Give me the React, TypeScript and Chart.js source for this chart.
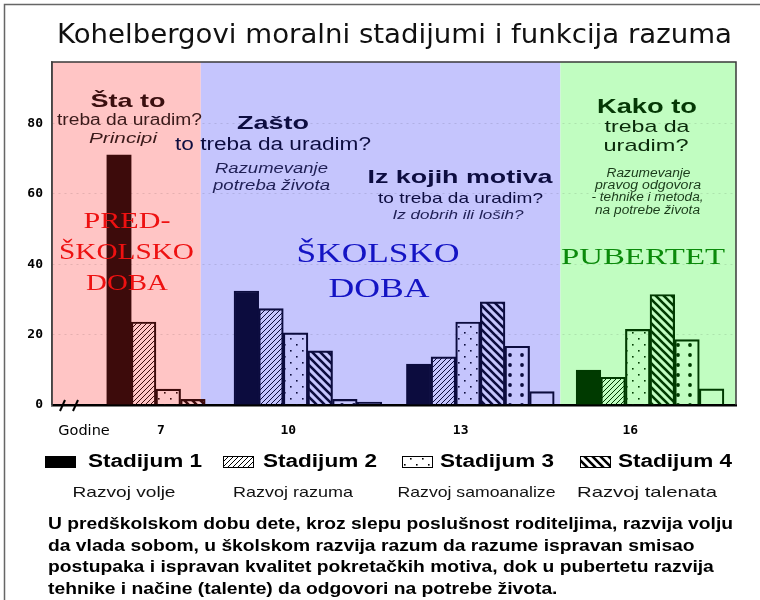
import React, { useEffect, useRef } from 'react';
import { Chart, registerables } from 'chart.js';

Chart.register(...registerables);

// ---------------- data ----------------
const TITLE = 'Kohelbergovi moralni stadijumi i funkcija razuma';
const AGES = ['7', '10', '13', '16'];
const X_TICK_LABELS = ['Godine', '7', '10', '13', '16'];
const SERIES_NAMES = ['Stadijum 1', 'Stadijum 2', 'Stadijum 3', 'Stadijum 4', 'Stadijum 5', 'Stadijum 6'];
const STADIJUM_1 = [71.1, 32.4, 11.6, 9.9];
const STADIJUM_2 = [23.6, 27.4, 13.7, 7.9];
const STADIJUM_3 = [4.5, 20.5, 23.6, 21.5];
const STADIJUM_4 = [1.6, 15.4, 29.3, 31.4];
const STADIJUM_5 = [null, 1.6, 16.7, 18.6];
const STADIJUM_6 = [null, 0.8, 3.8, 4.6];
const Y_TICK_STEP = 20;
const LEGEND_LABELS = ['Stadijum 1', 'Stadijum 2', 'Stadijum 3', 'Stadijum 4'];
const LEGEND_SUBLABELS = ['Razvoj volje', 'Razvoj razuma', 'Razvoj samoanalize', 'Razvoj talenata'];
const PARAGRAPH = [
  'U predškolskom dobu dete, kroz slepu poslušnost roditeljima, razvija volju',
  'da vlada sobom, u školskom razvija razum da razume ispravan smisao',
  'postupaka i ispravan kvalitet pokretačkih motiva, dok u pubertetu razvija',
  'tehnike i načine (talente) da odgovori na potrebe života.',
];

// ---------------- layout / style ----------------
const SANS = '"Liberation Sans", Arial, sans-serif';
const SERIF = '"Liberation Serif", "Times New Roman", serif';
const X_MAX = 27.77; // plot width in bar-width units
const Y_MAX = 97.5;
const GROUP_START = [2.22, 7.39, 14.39, 21.28]; // left edge of first bar of each age group (bar units)
const TICK_OFFSET = 2.2;
const GODINE_POS = 1.3;
const ZONES = [
  { from: 0, to: 6.04, bg: '#ffc5c5', ink: '#3d0b0b' },
  { from: 6.04, to: 20.64, bg: '#c5c5fd', ink: '#0c0c3e' },
  { from: 20.64, to: X_MAX, bg: '#c1fdc1', ink: '#003a00' },
];
const PATTERN_KINDS = ['solid', 'hatch', 'dots', 'diag', 'bigdots', 'empty'];

type Ann = [string, number, number, string, string, number];
const ANNOTATIONS: Ann[] = [
  ['Šta to', 128, 107, `bold 19px ${SANS}`, '#3a0f0f', 75],
  ['treba da uradim?', 129.5, 124.5, `16px ${SANS}`, '#3a1a1a', 145],
  ['Principi', 123, 143, `italic 15px ${SANS}`, '#3a1a1a', 68],
  ['PRED-', 127, 228, `23px ${SERIF}`, '#ee1111', 87],
  ['ŠKOLSKO', 126.5, 259, `23px ${SERIF}`, '#ee1111', 135],
  ['DOBA', 127, 290, `23px ${SERIF}`, '#ee1111', 82],
  ['Zašto', 273, 129, `bold 19px ${SANS}`, '#0d0d40', 72],
  ['to treba da uradim?', 273, 150, `17.5px ${SANS}`, '#0d0d40', 196],
  ['Razumevanje', 271.5, 173, `italic 14px ${SANS}`, '#1f1f55', 113],
  ['potreba života', 271.5, 190, `italic 14px ${SANS}`, '#1f1f55', 117],
  ['Iz kojih motiva', 460, 183, `bold 19px ${SANS}`, '#0d0d40', 185],
  ['to treba da uradim?', 460.5, 203, `15px ${SANS}`, '#0d0d40', 165],
  ['Iz dobrih ili loših?', 458, 219, `italic 13px ${SANS}`, '#1f1f55', 131],
  ['ŠKOLSKO', 378, 262, `27px ${SERIF}`, '#1414c4', 163],
  ['DOBA', 379, 297, `27px ${SERIF}`, '#1414c4', 101],
  ['Kako to', 647, 113, `bold 19.5px ${SANS}`, '#053805', 100],
  ['treba da', 647, 131.5, `17px ${SANS}`, '#0a2a0a', 85],
  ['uradim?', 646, 150.5, `17px ${SANS}`, '#0a2a0a', 85],
  ['Razumevanje', 648.5, 177, `italic 12px ${SANS}`, '#1a3a1a', 84],
  ['pravog odgovora', 648, 188.5, `italic 12px ${SANS}`, '#1a3a1a', 106],
  ['- tehnike i metoda,', 647.5, 201, `italic 12px ${SANS}`, '#1a3a1a', 112],
  ['na potrebe života', 647.5, 213.5, `italic 12px ${SANS}`, '#1a3a1a', 105],
  ['PUBERTET', 643, 264, `24px ${SERIF}`, '#0b8a0b', 164],
];

const LEGEND_X = [45, 223, 402, 580];
const LEGEND_TEXT_X = [88, 263, 440, 618];
const SUBLABEL_CX = [124, 293, 476.5, 647];
const SUBLABEL_W = [103, 120, 158, 140];

function drawText(
  ctx: CanvasRenderingContext2D, text: string, x: number, y: number, font: string,
  color: string, width?: number, align: CanvasTextAlign = 'center', sxOverride?: number
) {
  ctx.save();
  ctx.font = font;
  ctx.fillStyle = color;
  ctx.textBaseline = 'alphabetic';
  ctx.textAlign = align;
  const m = ctx.measureText(text).width;
  const sx = sxOverride ?? (width ? width / m : 1);
  ctx.translate(x, y);
  ctx.scale(sx, 1);
  ctx.fillText(text, 0, 0);
  ctx.restore();
}

function makePattern(kind: string, color: string, bg?: string): CanvasPattern | string {
  if (kind === 'solid') return color;
  if (kind === 'empty') return bg ?? 'rgba(0,0,0,0)';
  const c = document.createElement('canvas');
  let w = 8, h = 8;
  if (kind === 'hatch') { w = 5; h = 5; }
  if (kind === 'dots') { w = 12; h = 12; }
  if (kind === 'diag') { w = 8; h = 8; }
  if (kind === 'bigdots') { w = 12; h = 10; }
  c.width = w; c.height = h;
  const g = c.getContext('2d')!;
  if (bg) { g.fillStyle = bg; g.fillRect(0, 0, w, h); }
  g.strokeStyle = color;
  g.fillStyle = color;
  if (kind === 'hatch') {
    g.lineWidth = 1;
    g.beginPath();
    g.moveTo(0, 5); g.lineTo(5, 0);
    g.moveTo(-1, 1); g.lineTo(1, -1);
    g.moveTo(4, 6); g.lineTo(6, 4);
    g.stroke();
  } else if (kind === 'dots') {
    g.fillRect(2, 2, 1.6, 1.6);
    g.fillRect(8, 8, 1.6, 1.6);
  } else if (kind === 'diag') {
    g.lineWidth = 2.6;
    g.beginPath();
    g.moveTo(0, 0); g.lineTo(8, 8);
    g.moveTo(-2, 6); g.lineTo(2, 10);
    g.moveTo(6, -2); g.lineTo(10, 2);
    g.stroke();
  } else if (kind === 'bigdots') {
    g.beginPath();
    g.arc(6, 5, 1.9, 0, Math.PI * 2);
    g.fill();
  }
  return g.createPattern(c, 'repeat')!;
}

function zoneAt(x: number | undefined) {
  if (x === undefined) return ZONES[0];
  return ZONES.find((z) => x >= z.from && x < z.to) ?? ZONES[ZONES.length - 1];
}

export default function App() {
  const ref = useRef<HTMLCanvasElement>(null);

  useEffect(() => {
    const canvas = ref.current!;
    const seriesValues = [STADIJUM_1, STADIJUM_2, STADIJUM_3, STADIJUM_4, STADIJUM_5, STADIJUM_6];

    const zonePatterns = ZONES.map((z) => PATTERN_KINDS.map((k) => makePattern(k, z.ink)));
    const legendPatterns = PATTERN_KINDS.map((k) => makePattern(k, '#000', '#fff'));

    const tickPositions = [GODINE_POS, ...GROUP_START.map((g) => g + TICK_OFFSET)];

    const datasets = seriesValues.map((vals, s) => ({
      label: SERIES_NAMES[s],
      data: vals
        .map((v, g) => ({ x: GROUP_START[g] + s + 0.5, y: v, age: AGES[g] }))
        .filter((p) => p.y !== null),
      backgroundColor: (ctx: any) => {
        const zi = ZONES.indexOf(zoneAt(ctx.raw?.x));
        return zonePatterns[zi][s];
      },
      borderColor: (ctx: any) => zoneAt(ctx.raw?.x).ink,
      borderWidth: 1.5,
      grouped: false,
      categoryPercentage: 1,
      barPercentage: 1,
    }));

    const decorations = {
      id: 'decorations',
      beforeDraw(chart: any) {
        const { ctx, chartArea: a, scales } = chart;
        ctx.save();
        ctx.fillStyle = '#fff';
        ctx.fillRect(0, 0, chart.width, chart.height);
        // outer frame
        ctx.strokeStyle = '#666';
        ctx.lineWidth = 1.5;
        ctx.beginPath();
        ctx.moveTo(4.5, chart.height);
        ctx.lineTo(4.5, 4.5);
        ctx.lineTo(chart.width, 4.5);
        ctx.stroke();
        // zones
        for (const z of ZONES) {
          const x1 = scales.x.getPixelForValue(z.from);
          const x2 = scales.x.getPixelForValue(z.to);
          ctx.fillStyle = z.bg;
          ctx.fillRect(x1, a.top, x2 - x1, a.bottom - a.top);
        }
        ctx.restore();
      },
      afterDatasetsDraw(chart: any) {
        const { ctx } = chart;
        for (const [t, x, y, f, c, w] of ANNOTATIONS) drawText(ctx, t, x, y, f, c, w);
      },
      afterDraw(chart: any) {
        const { ctx, chartArea: a } = chart;
        ctx.save();
        // plot frame
        ctx.strokeStyle = '#3a3a3a';
        ctx.lineWidth = 1.5;
        ctx.beginPath();
        ctx.moveTo(a.left, a.bottom);
        ctx.lineTo(a.left, a.top);
        ctx.lineTo(a.right, a.top);
        ctx.lineTo(a.right, a.bottom);
        ctx.stroke();
        // axis break marks
        ctx.strokeStyle = '#000';
        ctx.lineWidth = 2;
        for (const off of [11, 24]) {
          ctx.beginPath();
          ctx.moveTo(a.left + off - 3, a.bottom + 6);
          ctx.lineTo(a.left + off + 2, a.bottom - 5);
          ctx.stroke();
        }
        ctx.restore();

        // title
        drawText(ctx, TITLE, 394.5, 43, `26px "DejaVu Sans", sans-serif`, '#111', 675);

        // legend
        LEGEND_LABELS.forEach((lab, i) => {
          const x = LEGEND_X[i];
          ctx.save();
          ctx.fillStyle = legendPatterns[i] as any;
          ctx.fillRect(x, 456, 31, 12);
          ctx.strokeStyle = '#000';
          ctx.lineWidth = 1;
          ctx.strokeRect(x + 0.5, 456.5, 30, 11);
          ctx.restore();
          drawText(ctx, lab, LEGEND_TEXT_X[i], 467, `bold 17.5px ${SANS}`, '#000', 114, 'left');
          drawText(ctx, LEGEND_SUBLABELS[i], SUBLABEL_CX[i], 497, `15px ${SANS}`, '#111', SUBLABEL_W[i]);
        });

        // paragraph
        ctx.save();
        ctx.font = `bold 16px ${SANS}`;
        const sx = 685 / ctx.measureText(PARAGRAPH[0]).width;
        ctx.restore();
        PARAGRAPH.forEach((line, i) => {
          drawText(ctx, line, 48, 529 + i * 21.5, `bold 16px ${SANS}`, '#000', undefined, 'left', sx);
        });
      },
    };

    const chart = new Chart(canvas, {
      type: 'bar',
      data: { datasets: datasets as any },
      options: {
        animation: false,
        responsive: false,
        devicePixelRatio: 1,
        events: [],
        layout: { padding: { left: 0, top: 62, right: 24, bottom: 0 } },
        plugins: {
          legend: { display: false },
          title: { display: false },
          tooltip: { enabled: false },
        },
        scales: {
          x: {
            type: 'linear',
            min: 0,
            max: X_MAX,
            offset: false,
            grid: { display: false, drawTicks: false, offset: false },
            border: { display: true, color: '#000', width: 2.5 },
            afterBuildTicks: (scale: any) => {
              scale.ticks = tickPositions.map((v) => ({ value: v }));
            },
            afterFit: (scale: any) => {
              scale.height = 195;
            },
            ticks: {
              autoSkip: false,
              maxRotation: 0,
              padding: 18,
              color: '#000',
              callback: (_v: any, i: number) => X_TICK_LABELS[i],
              font: (ctx: any) =>
                ctx.index === 0
                  ? { family: '"DejaVu Sans", sans-serif', size: 14.5 }
                  : { family: '"DejaVu Sans Mono", monospace', size: 13, weight: 'bold' },
            },
          },
          y: {
            min: 0,
            max: Y_MAX,
            afterFit: (scale: any) => {
              scale.width = 52;
            },
            ticks: {
              stepSize: Y_TICK_STEP,
              includeBounds: false,
              padding: 9,
              color: '#000',
              font: { family: '"DejaVu Sans Mono", monospace', size: 13, weight: 'bold' },
            },
            grid: {
              drawTicks: false,
              color: (ctx: any) => (ctx.tick && ctx.tick.value === 0 ? 'rgba(0,0,0,0)' : 'rgba(0,0,0,0.10)'),
            },
            border: { display: true, color: '#666', width: 1.5, dash: [2, 4] },
          },
        },
      },
      plugins: [decorations],
    } as any);

    return () => chart.destroy();
  }, []);

  return (
    <div style={{ position: 'absolute', left: 0, top: 0, width: 760, height: 600, background: '#fff' }}>
      <canvas ref={ref} width={760} height={600} style={{ display: 'block', width: 760, height: 600 }} />
    </div>
  );
}
